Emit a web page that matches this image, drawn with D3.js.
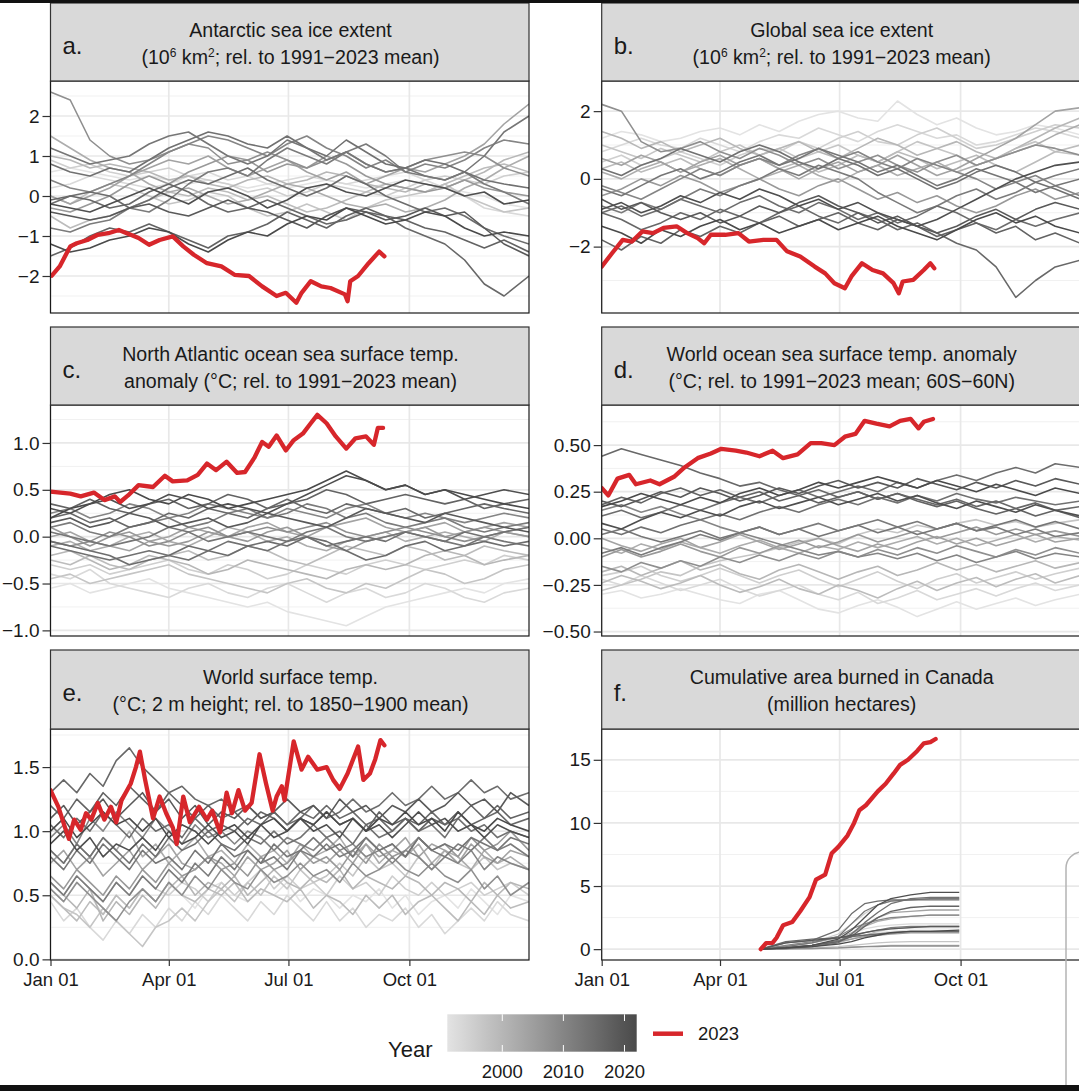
<!DOCTYPE html>
<html>
<head>
<meta charset="utf-8">
<script src="https://cdn.jsdelivr.net/npm/d3@7"></script>
<style>
body { margin: 0; background: #fff; }
svg { display: block; font-family: "Liberation Sans", Arial, sans-serif; }
</style>
</head>
<body>
<svg id="chart" width="1079" height="1091"></svg>
<script>
// ---- data ----
var halfMonthDays = [0,15,30,45,60,75,90,105,120,135,150,165,180,195,210,225,240,255,270,285,300,315,330,345,364];
var tenDayDays = [0,10,20,30,40,50,60,70,80,90,100,110,120,130,140,150,160,170,180,190,200,210,220,230,240,250,260,270,280,290,300,310,320,330,340,350,364];
var fireDays = [121,140,160,180,190,200,210,220,235,250,272];
var greyYears = [1991,1993,1995,1997,1999,2000,2002,2004,2006,2008,2010,2012,2013,2014,2015,2016,2017,2019,2021,2022];

var antarcticGrey = [
  [0.6,0.7,0.6,0.5,0.4,0.5,0.4,0.3,0.4,0.3,0.2,0.3,0.2,0.3,0.4,0.3,0.2,0.3,0.4,0.3,0.2,0.1,0.0,-0.2,-0.3],
  [0.2,0.3,0.5,0.4,0.3,0.2,0.3,0.5,0.6,0.4,0.5,0.3,0.4,0.5,0.4,0.3,0.4,0.5,0.6,0.4,0.2,0.0,-0.3,-0.4,-0.5],
  [0.9,0.7,0.8,0.6,0.5,0.6,0.7,0.5,0.4,0.3,0.1,0.2,0.0,0.1,0.3,0.2,0.1,0.0,0.2,0.4,0.5,0.4,0.3,0.5,0.6],
  [0.0,-0.2,0.1,0.3,0.2,0.0,-0.2,-0.1,0.1,0.0,-0.3,-0.5,-0.4,-0.2,-0.4,-0.6,-0.3,-0.1,0.0,0.1,0.3,0.0,-0.2,-0.4,-0.3],
  [-0.5,-0.8,-0.6,-0.5,-0.3,-0.1,0.1,0.0,0.2,0.1,-0.1,0.0,-0.2,-0.4,-0.3,-0.1,0.1,0.3,0.2,0.1,0.3,0.5,0.7,0.8,0.6],
  [1.0,0.9,0.7,0.8,0.7,0.6,0.4,0.5,0.3,0.2,0.4,0.5,0.3,0.4,0.6,0.5,0.3,0.2,0.1,0.3,0.2,0.4,0.6,0.9,1.1],
  [1.5,1.2,0.9,0.7,0.6,0.3,0.1,0.2,0.0,-0.2,-0.1,0.1,0.3,0.2,0.0,-0.2,-0.3,-0.2,-0.4,-0.3,-0.1,0.2,0.4,0.7,1.0],
  [0.0,-0.2,0.0,0.2,0.5,0.7,0.9,0.8,1.0,0.7,0.5,0.7,0.9,0.6,0.4,0.6,0.3,0.5,0.7,0.6,0.8,1.0,1.3,1.8,2.3],
  [-0.3,-0.4,-0.2,0.0,0.3,0.5,0.3,0.6,0.8,1.0,0.9,0.6,0.8,0.7,1.0,0.8,0.5,0.3,0.2,0.1,0.2,0.4,0.2,0.1,0.0],
  [2.6,2.4,1.4,1.0,0.8,0.9,1.1,1.3,1.2,0.8,0.9,1.1,0.9,0.7,0.9,1.1,0.8,0.6,0.7,0.9,1.0,1.1,1.0,0.7,0.5],
  [0.4,0.2,0.1,0.3,0.5,0.8,1.1,1.3,1.5,1.4,1.2,1.0,1.3,1.5,1.2,1.0,0.7,0.9,0.6,0.8,0.7,0.9,1.2,1.4,1.3],
  [-0.8,-0.9,-0.7,-0.6,-0.3,-0.4,-0.1,0.3,0.6,0.7,0.5,0.9,1.2,1.0,0.8,1.1,1.3,1.0,0.6,0.5,0.4,0.6,0.3,0.1,-0.2],
  [1.2,1.0,0.8,0.9,1.0,1.3,1.5,1.6,1.3,1.0,0.8,1.0,1.4,1.2,0.9,1.1,0.8,0.6,0.7,0.5,0.4,0.6,1.0,1.6,2.0],
  [0.8,0.6,0.5,0.7,0.6,0.9,1.2,1.4,1.6,1.5,1.3,1.2,1.5,1.2,1.0,1.4,1.1,0.8,0.7,0.9,0.8,0.6,0.4,0.3,0.2],
  [-0.2,0.0,0.1,0.0,-0.3,-0.1,0.2,0.4,0.3,0.5,0.7,0.4,0.2,0.0,0.2,0.5,0.3,0.0,-0.2,-0.4,-0.3,-0.5,-0.8,-1.0,-1.2],
  [-0.1,0.0,-0.1,-0.3,-0.2,0.1,0.3,0.1,-0.2,-0.4,-0.3,-0.1,-0.3,-0.5,-0.7,-0.6,-0.4,-0.5,-0.8,-1.0,-1.2,-1.6,-2.2,-2.5,-2.0],
  [-1.5,-1.3,-1.0,-0.8,-0.9,-0.7,-0.9,-1.1,-1.3,-1.0,-0.9,-0.7,-0.4,-0.6,-0.8,-0.5,-0.3,-0.5,-0.6,-0.8,-0.9,-1.1,-1.3,-1.1,-1.4],
  [-0.4,-0.5,-0.6,-0.5,-0.3,-0.2,-0.4,-0.5,-0.3,-0.1,-0.3,-0.4,-0.6,-0.8,-0.5,-0.3,-0.4,-0.6,-0.5,-0.3,-0.5,-0.4,-0.8,-1.2,-1.5],
  [-0.2,-0.3,-0.4,-0.2,0.0,0.2,0.0,-0.2,0.1,0.2,0.0,-0.3,-0.1,0.2,0.3,0.1,0.0,0.2,0.4,0.3,0.2,0.0,0.1,-0.2,-0.1],
  [-1.2,-1.4,-1.3,-1.1,-1.0,-0.8,-0.9,-1.2,-1.4,-1.1,-0.9,-1.0,-0.7,-0.5,-0.6,-0.3,-0.5,-0.7,-0.6,-0.4,-0.5,-0.8,-1.0,-0.9,-1.0]
];

var globalGrey = [
  [1.2,1.4,1.3,1.1,1.2,1.4,1.5,1.3,1.6,1.4,1.7,1.9,2.0,1.8,1.7,2.3,1.9,1.6,1.8,1.5,1.3,1.4,1.6,1.5,1.3],
  [0.8,1.0,1.2,1.0,0.9,1.2,1.0,0.8,1.1,1.3,1.2,1.5,1.3,1.1,1.4,1.6,1.4,1.2,1.3,1.0,1.1,1.3,1.5,1.4,1.2],
  [0.5,0.7,0.4,0.6,0.8,0.6,0.4,0.7,0.9,0.8,1.1,0.9,1.2,1.4,1.1,1.0,1.3,1.5,1.2,0.9,1.0,1.2,1.4,1.6,1.5],
  [1.0,0.8,0.6,0.9,0.7,0.5,0.8,1.0,0.7,0.9,0.6,0.8,1.0,0.7,0.5,0.8,1.1,0.9,0.7,0.4,0.6,0.9,1.1,0.8,0.7],
  [0.3,0.5,0.2,0.4,0.6,0.3,0.1,0.4,0.6,0.3,0.5,0.2,0.4,0.7,0.5,0.8,0.6,0.3,0.5,0.7,0.4,0.2,0.5,0.8,1.0],
  [1.4,1.2,0.9,1.1,0.8,1.0,1.2,0.9,0.7,0.9,1.1,0.8,0.6,0.9,1.2,1.0,0.7,0.9,1.1,0.8,0.6,0.9,1.2,1.5,1.8],
  [0.2,0.0,0.3,0.5,0.2,0.4,0.6,0.3,0.0,0.2,0.4,0.1,-0.1,0.2,0.4,0.1,0.3,0.5,0.2,0.4,0.6,0.8,1.0,1.3,1.6],
  [0.6,0.4,0.7,0.5,0.2,0.5,0.7,0.4,0.6,0.3,0.0,0.3,0.5,0.2,0.4,0.7,0.4,0.1,0.3,0.6,0.9,1.2,1.6,2.0,2.1],
  [-0.5,-0.3,0.0,-0.2,0.1,-0.1,-0.4,-0.2,0.0,-0.3,-0.5,-0.2,0.0,-0.3,-0.6,-0.4,-0.7,-0.5,-0.8,-1.0,-0.8,-0.5,-0.3,-0.6,-0.4],
  [2.2,2.0,1.1,0.8,0.9,1.1,0.8,0.6,0.9,0.7,0.4,0.6,0.3,0.5,0.7,0.4,0.2,0.5,0.7,0.4,0.6,0.8,1.0,0.9,0.7],
  [-0.2,-0.4,-0.6,-0.3,0.0,0.3,0.1,0.4,0.6,0.4,0.7,0.9,0.6,0.8,0.5,0.3,0.6,0.4,0.2,0.0,-0.3,-0.1,0.1,-0.2,-0.5],
  [-0.8,-1.0,-0.7,-0.9,-0.6,-0.3,-0.5,-0.2,0.0,0.3,0.1,0.4,0.2,0.0,-0.4,-0.7,-1.0,-0.8,-0.5,-0.3,-0.6,-0.4,-0.1,0.1,0.3],
  [-0.3,-0.5,-0.2,0.1,0.3,0.0,0.2,0.5,0.7,0.4,0.6,0.9,0.7,0.5,0.2,0.4,0.1,-0.2,0.0,0.3,0.1,-0.1,-0.4,-0.2,0.0],
  [0.3,0.1,0.4,0.6,0.9,0.7,0.5,0.8,1.0,0.8,0.5,0.3,0.6,0.4,0.1,0.3,0.0,-0.3,-0.1,0.2,0.4,0.2,-0.1,-0.3,-0.6],
  [-1.0,-0.8,-1.1,-0.9,-0.6,-0.8,-1.0,-0.7,-0.5,-0.8,-1.0,-0.7,-0.9,-1.2,-1.0,-1.3,-1.1,-0.8,-1.0,-1.3,-1.5,-1.2,-1.4,-1.2,-1.0],
  [-1.0,-1.2,-1.5,-1.3,-1.0,-1.2,-0.9,-1.1,-1.3,-1.0,-0.8,-1.1,-1.3,-1.0,-1.2,-1.5,-1.3,-1.6,-1.9,-2.1,-2.6,-3.5,-3.0,-2.6,-2.4],
  [-1.8,-2.1,-1.7,-1.9,-1.5,-1.7,-1.4,-1.6,-1.3,-1.1,-1.4,-1.2,-1.0,-1.3,-1.5,-1.2,-1.4,-1.7,-1.5,-1.3,-1.6,-1.4,-1.8,-1.6,-1.9],
  [-0.6,-0.9,-0.7,-1.0,-1.2,-1.0,-1.3,-1.1,-0.8,-1.0,-0.7,-0.5,-0.8,-1.0,-1.3,-1.1,-1.4,-1.6,-1.4,-1.1,-0.9,-1.2,-0.9,-0.7,-0.9],
  [-0.9,-0.7,-1.0,-0.8,-0.5,-0.7,-0.4,-0.6,-0.3,-0.5,-0.8,-0.6,-0.9,-0.7,-1.0,-1.2,-1.4,-1.2,-0.9,-0.6,-0.3,0.0,0.2,0.4,0.5],
  [-1.4,-1.6,-1.9,-1.5,-1.7,-1.4,-1.2,-1.5,-1.3,-1.6,-1.4,-1.2,-1.5,-1.3,-1.1,-1.4,-1.6,-1.8,-1.5,-1.2,-1.0,-1.3,-1.1,-1.4,-1.6]
];

var atlanticGrey = [
  [-0.55,-0.5,-0.6,-0.55,-0.5,-0.45,-0.55,-0.6,-0.65,-0.7,-0.75,-0.7,-0.8,-0.85,-0.9,-0.95,-0.85,-0.75,-0.7,-0.65,-0.6,-0.55,-0.6,-0.5,-0.45],
  [-0.4,-0.45,-0.35,-0.5,-0.55,-0.6,-0.65,-0.55,-0.5,-0.6,-0.65,-0.55,-0.5,-0.6,-0.7,-0.6,-0.55,-0.65,-0.6,-0.5,-0.55,-0.65,-0.7,-0.6,-0.55],
  [-0.3,-0.35,-0.3,-0.4,-0.35,-0.3,-0.25,-0.35,-0.4,-0.3,-0.35,-0.45,-0.4,-0.3,-0.35,-0.4,-0.3,-0.25,-0.3,-0.35,-0.3,-0.25,-0.3,-0.2,-0.25],
  [-0.45,-0.4,-0.5,-0.45,-0.4,-0.35,-0.3,-0.4,-0.45,-0.5,-0.55,-0.6,-0.5,-0.45,-0.55,-0.6,-0.5,-0.55,-0.45,-0.35,-0.4,-0.5,-0.45,-0.35,-0.3],
  [-0.25,-0.3,-0.2,-0.3,-0.35,-0.25,-0.2,-0.15,-0.25,-0.2,-0.1,-0.15,-0.25,-0.3,-0.2,-0.1,-0.15,-0.2,-0.1,-0.15,-0.25,-0.2,-0.1,-0.15,-0.2],
  [-0.2,-0.15,-0.25,-0.35,-0.3,-0.2,-0.25,-0.3,-0.4,-0.35,-0.25,-0.3,-0.35,-0.4,-0.45,-0.35,-0.3,-0.35,-0.3,-0.2,-0.15,-0.2,-0.3,-0.25,-0.2],
  [-0.1,-0.05,-0.15,-0.1,0.0,0.05,-0.05,-0.1,0.0,0.1,0.05,-0.05,0.0,-0.1,-0.15,-0.05,0.0,0.05,-0.05,0.0,0.05,0.0,-0.05,0.05,0.0],
  [0.0,0.05,-0.05,-0.1,-0.15,-0.05,0.0,0.1,0.05,0.0,0.1,0.15,0.05,0.0,0.1,0.15,0.2,0.1,0.05,0.1,0.15,0.05,0.1,0.15,0.1],
  [0.1,0.0,-0.1,0.0,0.05,-0.05,-0.1,-0.05,0.05,0.0,-0.05,0.05,0.1,0.0,-0.1,-0.15,-0.05,0.0,0.05,0.1,0.0,0.05,0.1,0.05,0.0],
  [-0.05,-0.1,-0.05,0.05,0.0,-0.1,-0.05,0.05,0.1,0.0,0.05,0.1,0.05,0.1,0.15,0.05,0.0,0.05,0.1,0.05,0.0,-0.05,0.0,0.05,0.1],
  [0.25,0.3,0.2,0.25,0.35,0.3,0.2,0.25,0.35,0.3,0.25,0.2,0.3,0.25,0.2,0.3,0.35,0.25,0.2,0.25,0.2,0.15,0.2,0.25,0.2],
  [0.1,0.15,0.05,0.0,0.1,0.15,0.2,0.1,0.15,0.25,0.3,0.2,0.25,0.35,0.3,0.2,0.25,0.15,0.1,0.15,0.2,0.1,0.05,0.1,0.15],
  [0.05,0.0,-0.05,-0.1,-0.05,0.0,0.1,0.05,-0.05,0.0,0.05,0.0,-0.05,0.05,0.1,0.0,-0.05,0.0,0.05,0.0,-0.05,-0.1,0.0,-0.05,-0.1],
  [-0.1,-0.15,-0.2,-0.25,-0.2,-0.15,-0.2,-0.25,-0.15,-0.05,-0.1,-0.15,-0.05,0.0,-0.1,-0.05,0.0,-0.05,0.05,0.0,-0.05,0.05,0.0,0.05,0.1],
  [-0.05,-0.1,-0.15,-0.2,-0.3,-0.25,-0.2,-0.1,-0.15,-0.2,-0.1,-0.05,-0.1,0.0,-0.05,-0.15,-0.25,-0.2,-0.1,-0.05,-0.15,-0.1,-0.05,-0.1,-0.05],
  [0.2,0.25,0.15,0.2,0.1,0.15,0.25,0.2,0.3,0.25,0.2,0.3,0.4,0.3,0.25,0.35,0.3,0.25,0.3,0.2,0.25,0.3,0.35,0.3,0.25],
  [0.35,0.3,0.4,0.3,0.25,0.35,0.4,0.3,0.35,0.45,0.4,0.3,0.35,0.4,0.5,0.45,0.35,0.4,0.45,0.4,0.35,0.4,0.3,0.35,0.4],
  [0.15,0.2,0.1,0.15,0.25,0.2,0.1,0.15,0.2,0.1,0.15,0.25,0.2,0.15,0.1,0.2,0.3,0.25,0.2,0.15,0.25,0.2,0.15,0.1,0.05],
  [0.3,0.25,0.35,0.4,0.3,0.35,0.45,0.4,0.3,0.35,0.3,0.25,0.35,0.45,0.55,0.65,0.6,0.5,0.55,0.45,0.5,0.4,0.45,0.5,0.45],
  [0.2,0.3,0.35,0.45,0.5,0.4,0.35,0.45,0.4,0.3,0.35,0.4,0.45,0.5,0.6,0.7,0.6,0.5,0.55,0.45,0.5,0.45,0.4,0.35,0.3]
];

var oceanGrey = [
  [-0.3,-0.28,-0.32,-0.3,-0.27,-0.3,-0.33,-0.35,-0.3,-0.28,-0.33,-0.38,-0.4,-0.36,-0.33,-0.37,-0.42,-0.38,-0.34,-0.38,-0.35,-0.32,-0.36,-0.33,-0.3],
  [-0.22,-0.25,-0.2,-0.24,-0.28,-0.25,-0.22,-0.27,-0.31,-0.28,-0.25,-0.3,-0.33,-0.29,-0.35,-0.32,-0.28,-0.33,-0.3,-0.27,-0.31,-0.27,-0.24,-0.28,-0.25],
  [-0.2,-0.18,-0.15,-0.2,-0.23,-0.2,-0.16,-0.2,-0.24,-0.2,-0.17,-0.22,-0.26,-0.22,-0.18,-0.23,-0.27,-0.22,-0.19,-0.24,-0.21,-0.18,-0.22,-0.19,-0.16],
  [-0.28,-0.25,-0.22,-0.18,-0.2,-0.15,-0.12,-0.1,-0.08,-0.05,-0.02,0.0,-0.03,0.02,0.05,0.03,0.07,0.05,0.08,0.1,0.07,0.09,0.06,0.08,0.1],
  [-0.24,-0.2,-0.23,-0.27,-0.24,-0.2,-0.25,-0.29,-0.26,-0.22,-0.27,-0.3,-0.25,-0.28,-0.32,-0.27,-0.23,-0.28,-0.24,-0.21,-0.26,-0.22,-0.19,-0.24,-0.2],
  [-0.18,-0.15,-0.2,-0.16,-0.12,-0.17,-0.14,-0.19,-0.22,-0.17,-0.14,-0.18,-0.22,-0.18,-0.15,-0.2,-0.17,-0.13,-0.17,-0.14,-0.18,-0.15,-0.12,-0.16,-0.13],
  [-0.05,-0.08,-0.03,-0.06,-0.02,-0.05,-0.08,-0.04,-0.01,-0.05,-0.08,-0.04,-0.06,-0.02,-0.05,-0.02,0.01,-0.03,0.0,-0.04,-0.01,0.02,-0.02,0.01,-0.01],
  [0.0,-0.04,-0.07,-0.03,0.0,-0.05,-0.02,0.02,-0.02,-0.06,-0.03,0.0,-0.04,-0.07,-0.03,-0.06,-0.02,0.01,-0.03,0.0,-0.04,-0.01,0.02,-0.02,0.0],
  [-0.1,-0.06,-0.1,-0.07,-0.03,-0.07,-0.1,-0.05,-0.08,-0.04,-0.01,-0.05,-0.02,0.02,-0.02,0.01,0.04,0.0,0.03,0.06,0.02,0.05,0.02,0.04,0.01],
  [-0.15,-0.18,-0.13,-0.16,-0.12,-0.15,-0.1,-0.13,-0.09,-0.12,-0.08,-0.11,-0.07,-0.1,-0.06,-0.09,-0.05,-0.08,-0.04,-0.07,-0.1,-0.06,-0.09,-0.05,-0.08],
  [0.15,0.18,0.14,0.17,0.13,0.1,0.06,0.03,0.0,-0.03,-0.06,-0.09,-0.07,-0.1,-0.08,-0.11,-0.08,-0.12,-0.09,-0.13,-0.1,-0.07,-0.11,-0.08,-0.1],
  [-0.08,-0.05,-0.09,-0.05,-0.02,0.02,-0.01,0.03,0.06,0.02,0.05,0.08,0.04,0.07,0.1,0.06,0.09,0.05,0.08,0.04,0.06,0.02,0.05,0.01,0.03],
  [0.02,0.05,0.01,-0.02,0.01,0.04,0.0,0.03,0.06,0.02,0.05,0.01,0.04,0.07,0.03,0.06,0.02,0.05,0.08,0.04,0.07,0.1,0.06,0.09,0.05],
  [0.05,0.02,0.06,0.03,0.07,0.1,0.13,0.1,0.14,0.17,0.14,0.18,0.21,0.18,0.22,0.19,0.23,0.2,0.24,0.21,0.19,0.22,0.2,0.18,0.2],
  [0.12,0.15,0.11,0.14,0.18,0.15,0.19,0.22,0.19,0.23,0.26,0.22,0.25,0.28,0.25,0.3,0.27,0.31,0.34,0.31,0.35,0.38,0.35,0.4,0.38],
  [0.44,0.48,0.45,0.42,0.39,0.35,0.32,0.28,0.3,0.26,0.23,0.26,0.22,0.25,0.21,0.24,0.21,0.18,0.21,0.17,0.2,0.16,0.19,0.15,0.17],
  [0.18,0.22,0.19,0.24,0.27,0.23,0.26,0.22,0.25,0.2,0.23,0.19,0.22,0.25,0.21,0.24,0.2,0.17,0.2,0.16,0.13,0.16,0.12,0.15,0.11],
  [0.2,0.17,0.21,0.25,0.22,0.27,0.24,0.2,0.23,0.27,0.24,0.28,0.31,0.27,0.3,0.27,0.32,0.29,0.26,0.3,0.27,0.31,0.28,0.32,0.29],
  [0.08,0.05,0.1,0.14,0.11,0.15,0.12,0.17,0.2,0.16,0.19,0.22,0.18,0.21,0.24,0.2,0.23,0.19,0.16,0.2,0.17,0.14,0.18,0.15,0.12],
  [0.17,0.2,0.24,0.21,0.18,0.22,0.19,0.24,0.27,0.23,0.26,0.3,0.27,0.3,0.33,0.3,0.27,0.31,0.28,0.25,0.29,0.26,0.23,0.27,0.24]
];

var surfaceGrey = [
  [0.55,0.45,0.6,0.5,0.35,0.5,0.4,0.55,0.45,0.6,0.5,0.4,0.55,0.6,0.5,0.45,0.55,0.5,0.6,0.45,0.55,0.5,0.4,0.5,0.45,0.55,0.4,0.5,0.35,0.45,0.5,0.4,0.55,0.45,0.35,0.5,0.45],
  [0.45,0.3,0.4,0.25,0.15,0.3,0.2,0.35,0.25,0.4,0.3,0.45,0.35,0.5,0.4,0.3,0.45,0.35,0.5,0.4,0.3,0.45,0.3,0.4,0.25,0.35,0.3,0.4,0.25,0.35,0.2,0.3,0.4,0.3,0.45,0.35,0.3],
  [0.6,0.5,0.65,0.55,0.45,0.6,0.5,0.65,0.55,0.5,0.6,0.55,0.45,0.6,0.5,0.6,0.7,0.55,0.65,0.55,0.6,0.5,0.65,0.55,0.6,0.5,0.65,0.55,0.5,0.6,0.5,0.55,0.6,0.5,0.55,0.6,0.5],
  [0.5,0.4,0.35,0.25,0.4,0.3,0.2,0.1,0.25,0.3,0.4,0.3,0.45,0.55,0.45,0.6,0.5,0.65,0.55,0.7,0.6,0.65,0.75,0.65,0.8,0.7,0.75,0.65,0.8,0.7,0.85,0.75,0.7,0.8,0.7,0.75,0.7],
  [0.5,0.4,0.3,0.45,0.35,0.5,0.4,0.55,0.45,0.6,0.5,0.45,0.55,0.5,0.6,0.45,0.55,0.5,0.45,0.55,0.4,0.5,0.45,0.35,0.5,0.4,0.5,0.35,0.45,0.5,0.4,0.3,0.45,0.35,0.5,0.4,0.45],
  [0.6,0.5,0.4,0.55,0.3,0.45,0.35,0.5,0.4,0.55,0.65,0.5,0.6,0.55,0.65,0.5,0.6,0.7,0.6,0.55,0.65,0.6,0.7,0.55,0.65,0.6,0.55,0.65,0.6,0.5,0.6,0.55,0.45,0.6,0.5,0.6,0.55],
  [0.85,0.75,0.9,0.8,0.95,0.85,1.0,0.8,0.9,0.75,0.85,0.95,0.8,0.85,0.75,0.9,0.8,0.85,0.75,0.9,0.8,0.85,0.95,0.8,0.9,0.75,0.85,0.8,0.9,0.75,0.85,0.8,0.7,0.85,0.75,0.8,0.7],
  [0.75,0.85,0.7,0.8,0.65,0.75,0.85,0.7,0.8,0.9,0.75,0.7,0.8,0.75,0.65,0.8,0.7,0.75,0.85,0.7,0.8,0.75,0.85,0.75,0.9,0.8,0.85,0.95,0.8,0.9,0.85,0.75,0.9,0.8,0.75,0.85,0.8],
  [0.65,0.55,0.7,0.6,0.5,0.65,0.55,0.7,0.6,0.75,0.65,0.7,0.8,0.7,0.75,0.65,0.8,0.7,0.75,0.85,0.75,0.8,0.7,0.85,0.75,0.9,0.8,0.85,0.95,0.85,0.9,0.8,0.95,0.85,0.9,1.0,0.85],
  [0.55,0.45,0.6,0.5,0.4,0.3,0.45,0.55,0.45,0.6,0.5,0.65,0.55,0.7,0.6,0.55,0.7,0.6,0.65,0.75,0.65,0.7,0.6,0.75,0.65,0.7,0.8,0.7,0.65,0.75,0.65,0.6,0.7,0.55,0.65,0.5,0.6],
  [0.95,1.05,0.9,1.1,1.0,1.15,1.05,0.95,1.1,1.0,0.9,1.05,0.95,1.0,0.9,1.0,0.95,0.85,0.95,0.9,0.85,0.95,0.85,0.9,0.8,0.85,0.75,0.85,0.8,0.7,0.8,0.75,0.85,0.7,0.8,0.75,0.7],
  [0.6,0.5,0.65,0.55,0.45,0.6,0.5,0.65,0.55,0.7,0.6,0.75,0.65,0.8,0.7,0.85,0.75,0.8,0.7,0.85,0.8,0.9,0.8,0.85,0.95,0.85,0.9,0.8,0.95,0.85,0.8,0.9,0.85,0.95,0.85,0.9,0.8],
  [0.8,0.7,0.85,0.75,0.9,0.8,0.7,0.85,0.75,0.8,0.7,0.85,0.75,0.9,0.8,0.85,0.75,0.9,0.8,0.85,0.95,0.85,0.9,0.8,0.95,0.85,0.9,0.8,0.95,0.85,0.9,0.85,0.95,0.9,0.85,0.95,0.9],
  [0.85,0.75,0.9,0.8,0.95,0.85,0.75,0.9,0.8,0.95,0.85,0.9,1.0,0.9,0.85,0.95,0.9,1.0,0.9,0.95,1.05,0.95,1.0,0.9,1.05,0.95,1.0,1.1,1.0,1.05,0.95,1.1,1.0,1.05,0.95,1.0,0.95],
  [1.05,0.95,1.1,1.0,1.15,1.05,0.95,1.1,1.0,1.05,0.95,1.1,1.0,1.05,1.0,1.1,1.05,1.15,1.05,1.1,1.2,1.1,1.15,1.25,1.15,1.2,1.3,1.2,1.25,1.35,1.25,1.3,1.4,1.3,1.35,1.25,1.3],
  [1.3,1.4,1.3,1.45,1.35,1.55,1.65,1.5,1.4,1.3,1.35,1.25,1.2,1.25,1.15,1.2,1.1,1.15,1.05,1.15,1.1,1.2,1.1,1.15,1.05,1.1,1.0,1.1,1.05,1.15,1.05,1.1,1.2,1.1,1.15,1.05,1.1],
  [1.2,1.1,1.25,1.15,1.3,1.2,1.35,1.25,1.15,1.3,1.2,1.1,1.2,1.1,1.15,1.05,1.15,1.1,1.0,1.1,1.05,1.15,1.05,1.1,1.0,1.15,1.05,1.1,1.0,1.1,1.05,1.15,1.05,1.1,1.2,1.1,1.15],
  [1.1,1.2,1.05,1.15,1.25,1.1,1.2,1.3,1.15,1.25,1.1,1.2,1.05,1.15,1.1,1.2,1.1,1.15,1.25,1.15,1.2,1.1,1.25,1.15,1.2,1.1,1.2,1.15,1.25,1.15,1.2,1.3,1.2,1.25,1.15,1.3,1.2],
  [0.9,1.0,0.85,0.95,0.8,0.9,0.85,0.95,0.85,1.0,0.9,0.95,1.05,0.95,1.0,0.9,1.05,0.95,1.0,1.1,1.0,1.05,0.95,1.1,1.0,1.05,0.95,1.05,1.15,1.05,1.1,1.0,1.05,0.95,1.05,1.0,0.95],
  [1.0,1.1,0.95,1.05,1.15,1.05,1.1,1.0,1.1,0.95,1.05,1.0,0.9,1.0,1.05,0.95,1.05,1.1,1.0,1.1,1.05,1.15,1.05,1.1,1.0,1.1,1.05,1.15,1.05,1.1,1.0,1.15,1.05,1.0,1.1,1.05,1.0]
];

var canadaGrey = [
  [0,0.1,0.3,0.6,0.9,1.1,1.3,1.4,1.5,1.5,1.5],
  [0,0.05,0.2,0.6,1.2,1.6,1.8,1.9,2.0,2.0,2.0],
  [0,0.2,0.5,1.2,2.0,2.8,3.5,3.8,3.9,4.0,4.0],
  [0,0.05,0.1,0.2,0.3,0.4,0.5,0.55,0.6,0.6,0.6],
  [0,0.1,0.3,0.5,0.8,1.1,1.4,1.6,1.7,1.7,1.7],
  [0,0.02,0.05,0.1,0.15,0.2,0.25,0.3,0.3,0.3,0.3],
  [0,0.2,0.5,0.9,1.3,1.8,2.2,2.4,2.6,2.7,2.7],
  [0,0.05,0.2,0.6,1.2,1.9,2.5,2.9,3.0,3.1,3.1],
  [0,0.1,0.3,0.6,0.8,1.0,1.1,1.2,1.3,1.3,1.3],
  [0,0.02,0.05,0.1,0.15,0.2,0.2,0.25,0.25,0.25,0.25],
  [0,0.3,0.6,1.0,1.6,2.0,2.3,2.5,2.6,2.7,2.7],
  [0,0.1,0.3,0.7,1.0,1.3,1.5,1.7,1.8,1.8,1.8],
  [0,0.2,0.5,1.0,2.0,3.0,3.5,3.8,3.9,4.0,4.0],
  [0,0.05,0.2,0.5,1.2,2.1,2.9,3.6,4.0,4.1,4.1],
  [0,0.5,0.7,1.5,2.8,3.6,3.8,3.9,3.9,3.9,3.9],
  [0,0.6,0.8,0.9,1.0,1.1,1.2,1.3,1.4,1.4,1.4],
  [0,0.1,0.3,0.6,1.0,1.8,2.5,3.0,3.3,3.4,3.4],
  [0,0.5,0.7,0.9,1.1,1.3,1.5,1.6,1.7,1.8,1.8],
  [0,0.1,0.3,0.8,1.5,2.5,3.5,4.0,4.3,4.5,4.5],
  [0,0.1,0.2,0.4,0.6,0.9,1.1,1.3,1.4,1.4,1.5]
];

// 2023 series as [day of year, value]
var antarctic2023 = [[1,-1.99],[7,-1.76],[15,-1.26],[20,-1.18],[28,-1.10],[36,-0.97],[44,-0.93],[52,-0.85],[58,-0.93],[61,-0.97],[67,-1.05],[75,-1.22],[83,-1.10],[93,-1.01],[101,-1.26],[109,-1.47],[119,-1.68],[130,-1.76],[140,-1.97],[151,-2.0],[161,-2.26],[172,-2.5],[179,-2.42],[187,-2.67],[191,-2.42],[198,-2.13],[206,-2.26],[213,-2.30],[224,-2.46],[226,-2.63],[228,-2.13],[234,-2.0],[242,-1.68],[250,-1.39],[254,-1.51]];
var global2023 = [[0,-2.59],[8,-2.19],[16,-1.80],[23,-1.85],[31,-1.55],[39,-1.60],[47,-1.45],[57,-1.40],[65,-1.60],[73,-1.75],[78,-1.90],[83,-1.65],[94,-1.65],[104,-1.60],[112,-1.85],[123,-1.80],[133,-1.80],[141,-2.14],[151,-2.29],[162,-2.59],[170,-2.79],[177,-3.08],[185,-3.23],[190,-2.88],[198,-2.49],[206,-2.69],[214,-2.79],[222,-3.08],[226,-3.38],[229,-3.03],[237,-2.98],[245,-2.69],[250,-2.49],[253,-2.64]];
var atlantic2023 = [[0,0.48],[15,0.46],[23,0.43],[33,0.47],[41,0.39],[49,0.43],[53,0.37],[59,0.44],[67,0.55],[78,0.53],[87,0.65],[93,0.59],[104,0.60],[112,0.66],[119,0.78],[126,0.71],[134,0.80],[142,0.68],[148,0.69],[155,0.84],[161,1.01],[166,0.96],[172,1.08],[179,0.92],[185,1.03],[192,1.10],[198,1.21],[203,1.30],[210,1.21],[217,1.07],[225,0.94],[232,1.05],[240,1.07],[246,0.98],[249,1.16],[253,1.16]];
var ocean2023 = [[0,0.27],[5,0.23],[12,0.32],[21,0.34],[26,0.29],[37,0.31],[44,0.29],[55,0.33],[63,0.38],[73,0.43],[83,0.455],[91,0.48],[102,0.47],[110,0.46],[120,0.44],[130,0.47],[138,0.43],[149,0.45],[159,0.51],[167,0.51],[177,0.50],[185,0.545],[193,0.56],[200,0.63],[209,0.615],[219,0.60],[227,0.63],[235,0.64],[241,0.59],[245,0.625],[252,0.64]];
var surface2023 = [[0,1.32],[6,1.19],[11,1.03],[14,0.94],[18,1.09],[23,1.01],[27,1.14],[31,1.09],[36,1.22],[41,1.09],[46,1.19],[50,1.07],[54,1.24],[61,1.37],[65,1.50],[68,1.62],[72,1.40],[78,1.10],[83,1.27],[88,1.14],[93,1.03],[96,0.90],[101,1.27],[106,1.07],[113,1.19],[119,1.09],[123,1.16],[129,0.99],[134,1.30],[138,1.14],[143,1.32],[148,1.16],[153,1.22],[159,1.60],[164,1.37],[169,1.16],[172,1.27],[176,1.35],[178,1.24],[185,1.70],[191,1.48],[196,1.58],[203,1.48],[210,1.50],[215,1.40],[220,1.33],[226,1.45],[234,1.66],[238,1.40],[243,1.45],[247,1.56],[251,1.71],[254,1.67]];
var canada2023 = [[121,0],[125,0.47],[130,0.5],[133,0.9],[138,1.9],[145,2.15],[151,3.0],[158,4.1],[163,5.5],[170,5.9],[175,7.6],[180,8.1],[187,9.0],[192,10.0],[196,11.0],[201,11.4],[210,12.5],[216,13.1],[222,13.9],[227,14.6],[233,15.0],[240,15.7],[245,16.3],[250,16.4],[254,16.65]];

var monthTickDays = [0, 90, 181, 273];
var legendTickYears = [2000, 2010, 2020];

// ---- layout ----
var width = 1079, height = 1091;
var cols = [{x0: 50.5, x1: 529}, {x0: 601.7, x1: 1080.2}];
var rows = [
  {strip: 3, top: 81, bottom: 313},
  {strip: 327, top: 405, bottom: 636},
  {strip: 650, top: 729, bottom: 960}
];
var red = "#d7262b";
var textCol = "#1a1a1a";

var greyColor = d3.scaleLinear()
    .domain([1991, 2022])
    .range(["#e3e3e3", "#4a4a4a"]);

var jan1 = Date.UTC(2023, 0, 1);
function dayDate(d) { return new Date(jan1 + d * 864e5); }

var supLine = [["(10", 0], ["6", 1], [" km", 0], ["2", 1], ["; rel. to 1991\u22122023 mean)", 0]];

var panels = [
  {tag: "a.", col: 0, row: 0, title: [[["Antarctic sea ice extent", 0]], supLine],
   domain: [-2.925, 2.875], ticks: [-2, -1, 0, 1, 2], minor: [-2.5, -1.5, -0.5, 0.5, 1.5, 2.5],
   fmt: d3.format("d"), days: halfMonthDays, grey: antarcticGrey, now: antarctic2023},
  {tag: "b.", col: 1, row: 0, title: [[["Global sea ice extent", 0]], supLine],
   domain: [-3.96, 2.89], ticks: [-2, 0, 2], minor: [-3, -1, 1],
   fmt: d3.format("d"), days: halfMonthDays, grey: globalGrey, now: global2023},
  {tag: "c.", col: 0, row: 1, title: [[["North Atlantic ocean sea surface temp.", 0]], [["anomaly (\u00b0C; rel. to 1991\u22122023 mean)", 0]]],
   domain: [-1.06, 1.405], ticks: [-1, -0.5, 0, 0.5, 1], minor: [-0.75, -0.25, 0.25, 0.75, 1.25],
   fmt: d3.format(".1f"), days: halfMonthDays, grey: atlanticGrey, now: atlantic2023},
  {tag: "d.", col: 1, row: 1, title: [[["World ocean sea surface temp. anomaly", 0]], [["(\u00b0C; rel. to 1991\u22122023 mean; 60S\u221260N)", 0]]],
   domain: [-0.524, 0.715], ticks: [-0.5, -0.25, 0, 0.25, 0.5], minor: [-0.375, -0.125, 0.125, 0.375, 0.625],
   fmt: d3.format(".2f"), days: halfMonthDays, grey: oceanGrey, now: ocean2023},
  {tag: "e.", col: 0, row: 2, title: [[["World surface temp.", 0]], [["(\u00b0C; 2 m height; rel. to 1850\u22121900 mean)", 0]]],
   domain: [-0.005, 1.797], ticks: [0, 0.5, 1, 1.5], minor: [0.25, 0.75, 1.25, 1.75],
   fmt: d3.format(".1f"), days: tenDayDays, grey: surfaceGrey, now: surface2023},
  {tag: "f.", col: 1, row: 2, title: [[["Cumulative area burned in Canada", 0]], [["(million hectares)", 0]]],
   domain: [-0.86, 17.44], ticks: [0, 5, 10, 15], minor: [2.5, 7.5, 12.5],
   fmt: d3.format("d"), days: fireDays, grey: canadaGrey, now: canada2023, thin: true}
];

var svg = d3.select("#chart");
svg.append("rect").attr("width", width).attr("height", height).attr("fill", "#fff");
var defs = svg.append("defs");

panels.forEach(function(p, pi) {
  var c = cols[p.col], r = rows[p.row];
  var x = d3.scaleUtc().domain([dayDate(0), dayDate(364)]).range([c.x0, c.x1]);
  var y = d3.scaleLinear().domain(p.domain).range([r.bottom, r.top]);
  var g = svg.append("g").attr("class", "panel");

  defs.append("clipPath").attr("id", "clip" + pi)
    .append("rect").attr("x", c.x0).attr("y", r.top)
    .attr("width", c.x1 - c.x0).attr("height", r.bottom - r.top);

  // grid
  g.selectAll(".minor").data(p.minor).enter().append("line")
      .attr("x1", c.x0).attr("x2", c.x1)
      .attr("y1", function(d) { return y(d); }).attr("y2", function(d) { return y(d); })
      .attr("stroke", "#f1f1f1").attr("stroke-width", 1);
  g.selectAll(".major").data(p.ticks).enter().append("line")
      .attr("x1", c.x0).attr("x2", c.x1)
      .attr("y1", function(d) { return y(d); }).attr("y2", function(d) { return y(d); })
      .attr("stroke", "#e8e8e8").attr("stroke-width", 1.7);
  g.selectAll(".vmajor").data(monthTickDays).enter().append("line")
      .attr("x1", function(d) { return x(dayDate(d)); }).attr("x2", function(d) { return x(dayDate(d)); })
      .attr("y1", r.top).attr("y2", r.bottom)
      .attr("stroke", "#e8e8e8").attr("stroke-width", 1.7);

  var line = d3.line()
      .x(function(d) { return x(dayDate(d[0])); })
      .y(function(d) { return y(d[1]); });

  var lines = g.append("g").attr("clip-path", "url(#clip" + pi + ")");
  var greyData = p.grey.map(function(vals, i) {
    return {year: greyYears[i], pts: vals.map(function(v, j) { return [p.days[j], v]; })};
  });
  lines.selectAll(".grey").data(greyData).enter().append("path")
      .attr("d", function(d) { return line(d.pts); })
      .attr("fill", "none")
      .attr("stroke", function(d) { return greyColor(d.year); })
      .attr("stroke-width", p.thin ? 1.3 : 1.6)
      .attr("stroke-linejoin", "round");
  lines.append("path")
      .attr("d", line(p.now))
      .attr("fill", "none")
      .attr("stroke", red)
      .attr("stroke-width", 4.3)
      .attr("stroke-linejoin", "round")
      .attr("stroke-linecap", "round");

  // border
  g.append("rect").attr("x", c.x0).attr("y", r.top)
      .attr("width", c.x1 - c.x0).attr("height", r.bottom - r.top)
      .attr("fill", "none").attr("stroke", "#1a1a1a").attr("stroke-width", 1.2);

  // strip
  g.append("rect").attr("x", c.x0).attr("y", r.strip)
      .attr("width", c.x1 - c.x0).attr("height", r.top - r.strip)
      .attr("fill", "#d9d9d9").attr("stroke", "#333").attr("stroke-width", 1.2);
  var cx = c.x0 + 240;
  p.title.forEach(function(segs, li) {
    var t = g.append("text").attr("x", cx).attr("y", r.strip + (li ? 61 : 34))
        .attr("text-anchor", "middle").attr("font-size", 19.6).attr("fill", textCol);
    var shifted = false;
    segs.forEach(function(s) {
      var ts = t.append("tspan").text(s[0]);
      if (s[1] && !shifted) { ts.attr("dy", -7.5).attr("font-size", 12); shifted = true; }
      else if (s[1]) { ts.attr("font-size", 12); }
      else if (shifted) { ts.attr("dy", 7.5); shifted = false; }
    });
  });
  g.append("text").attr("x", c.x0 + 12).attr("y", r.strip + 51)
      .attr("font-size", 24).attr("fill", textCol).text(p.tag);

  // y axis
  var ya = g.append("g")
      .attr("transform", "translate(" + c.x0 + ",0)")
      .call(d3.axisLeft(y).tickValues(p.ticks).tickFormat(p.fmt).tickSize(8).tickPadding(3));
  ya.select(".domain").remove();
  ya.attr("font-family", null).attr("font-size", null);
  ya.selectAll("line").attr("stroke", "#333").attr("stroke-width", 1.2);
  ya.selectAll("text").attr("font-size", 19).attr("fill", textCol);

  // x axis on bottom row
  if (p.row === 2) {
    var xa = g.append("g")
        .attr("transform", "translate(0," + r.bottom + ")")
        .call(d3.axisBottom(x).tickValues(monthTickDays.map(dayDate))
          .tickFormat(d3.utcFormat("%b %d")).tickSize(6).tickPadding(7));
    xa.select(".domain").remove();
    xa.attr("font-family", null).attr("font-size", null);
    xa.selectAll("line").attr("stroke", "#333").attr("stroke-width", 1.2);
    xa.selectAll("text").attr("font-size", 18.5).attr("fill", textCol);
  }
});

// ---- legend ----
var leg = svg.append("g");
var barX = d3.scaleLinear().domain([1991, 2022]).range([447.3, 636.7]);
var grad = defs.append("linearGradient").attr("id", "yearGrad");
grad.selectAll("stop").data(d3.range(0, 1.01, 0.1)).enter().append("stop")
    .attr("offset", function(d) { return d; })
    .attr("stop-color", function(d) { return greyColor(1991 + d * 31); });
leg.append("text").attr("x", 388).attr("y", 1057)
    .attr("font-size", 22).attr("fill", textCol).text("Year");
leg.append("rect").attr("x", barX(1991)).attr("y", 1014.3)
    .attr("width", barX(2022) - barX(1991)).attr("height", 37.4)
    .attr("fill", "url(#yearGrad)");
legendTickYears.forEach(function(yr) {
  leg.append("line").attr("x1", barX(yr)).attr("x2", barX(yr))
      .attr("y1", 1014.3).attr("y2", 1021).attr("stroke", "#fff").attr("stroke-width", 1);
  leg.append("line").attr("x1", barX(yr)).attr("x2", barX(yr))
      .attr("y1", 1045).attr("y2", 1051.7).attr("stroke", "#fff").attr("stroke-width", 1);
  leg.append("text").attr("x", barX(yr)).attr("y", 1078)
      .attr("text-anchor", "middle").attr("font-size", 18.5).attr("fill", textCol).text(yr);
});
leg.append("line").attr("x1", 653).attr("x2", 683).attr("y1", 1033.7).attr("y2", 1033.7)
    .attr("stroke", red).attr("stroke-width", 4.5);
leg.append("text").attr("x", 698).attr("y", 1040)
    .attr("font-size", 18.5).attr("fill", textCol).text("2023");

// screenshot frame bits
svg.append("rect").attr("x", 0).attr("y", 0).attr("width", width).attr("height", 3).attr("fill", "#111");
svg.append("rect").attr("x", 0).attr("y", 1085).attr("width", width).attr("height", 6).attr("fill", "#111");
svg.append("path").attr("d", "M1066,1085 V868 A16,16 0 0 1 1082,852")
    .attr("fill", "none").attr("stroke", "#b4b4b4").attr("stroke-width", 1.5);
</script>
</body>
</html>
